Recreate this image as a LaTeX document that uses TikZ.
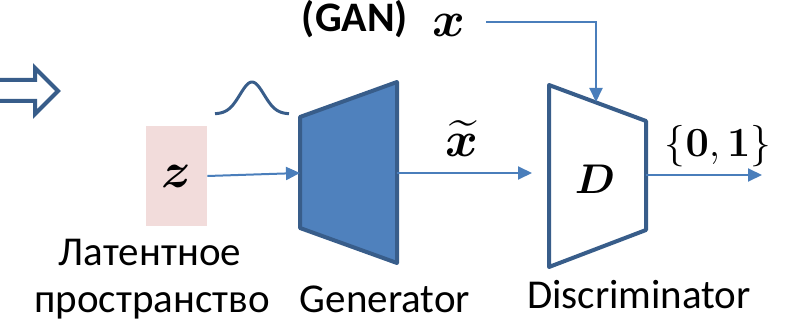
\documentclass[tikz,border=0pt]{standalone}
\usepackage{amsmath,bm}
\usepackage[no-math]{fontspec}
\setmainfont{Carlito}
\usetikzlibrary{arrows.meta}
\definecolor{genfill}{HTML}{4F81BD}
\definecolor{ink}{HTML}{385D8A}
\definecolor{wire}{HTML}{4A7EBB}
\definecolor{latent}{HTML}{F2DCDB}

\begin{document}
\begin{tikzpicture}[
  x=.5pt,y=-.5pt,
  caption/.style={font=\fontsize{20.5}{24}\selectfont,inner sep=0pt,anchor=base},
  symbol/.style={font=\fontsize{23}{27}\selectfont,inner sep=0pt,anchor=base},
  netbox/.style={draw=ink,line width=2pt,line join=round},
  flow/.style={draw=wire,line width=1pt,-{Triangle[length=7pt,width=6.5pt]}},
  latentbox/.style={fill=latent,minimum width=30.5pt,minimum height=50pt,inner sep=0pt}
]
\path[use as bounding box] (0,0) rectangle (788,326);

% hollow double arrow cut by the left edge
\draw[netbox,line join=miter] (-5,80) -- (35,80) -- (35,68) -- (58,91)
  -- (35,114) -- (35,101) -- (-5,101);

\node[caption,font=\bfseries\fontsize{21}{25}\selectfont] (gan) at (355,32) {(GAN)};
\node[symbol] (xreal) at (449,37) {$\bm{x}$};

% prior density above the latent code
\draw[ink,line width=1.5pt] plot[domain=215:289,samples=60,smooth]
  (\x,{114-32*exp(-((\x-252)/17)*((\x-252)/17))});

\node[latentbox,font=\fontsize{23}{27}\selectfont] (z) at (176.5,176) {$\bm{z}$};

% generator and discriminator bodies
\draw[netbox,fill=genfill] (300,117) -- (397,82) -- (397,263) -- (300,228) -- cycle;
\coordinate (genin) at (300,173);
\coordinate (genout) at (397,173);

\draw[netbox,fill=white] (549,85) -- (646,121) -- (646,230) -- (549,267) -- cycle;
\node[symbol,font=\fontsize{22}{26}\selectfont] (dlab) at (595,194) {$\bm{D}$};
\coordinate (dtop) at (596,102);
\coordinate (dxin) at (532,173);
\coordinate (discout) at (646,175);
\coordinate (dres) at (762,175);
\coordinate (xsrc) at (486,22);

\draw[flow] (z.east) -- (genin);
\draw[flow] (genout) -- (dxin);
\draw[flow] (discout) -- (dres);
\draw[flow] (xsrc) -| (dtop);

\node[symbol] (xfake) at (462,157) {$\widetilde{\bm{x}}$};
\node[symbol,font=\fontsize{20}{24}\selectfont] (out) at (718,157) {$\{\mathbf{0},\mathbf{1}\}$};

\node[caption] (latname) at (150,265) {Латентное};
\node[caption] (latspace) at (152,312) {пространство};
\node[caption] (genname) at (385,312) {Generator};
\node[caption] (discname) at (639,308) {Discriminator};
\end{tikzpicture}
\end{document}
